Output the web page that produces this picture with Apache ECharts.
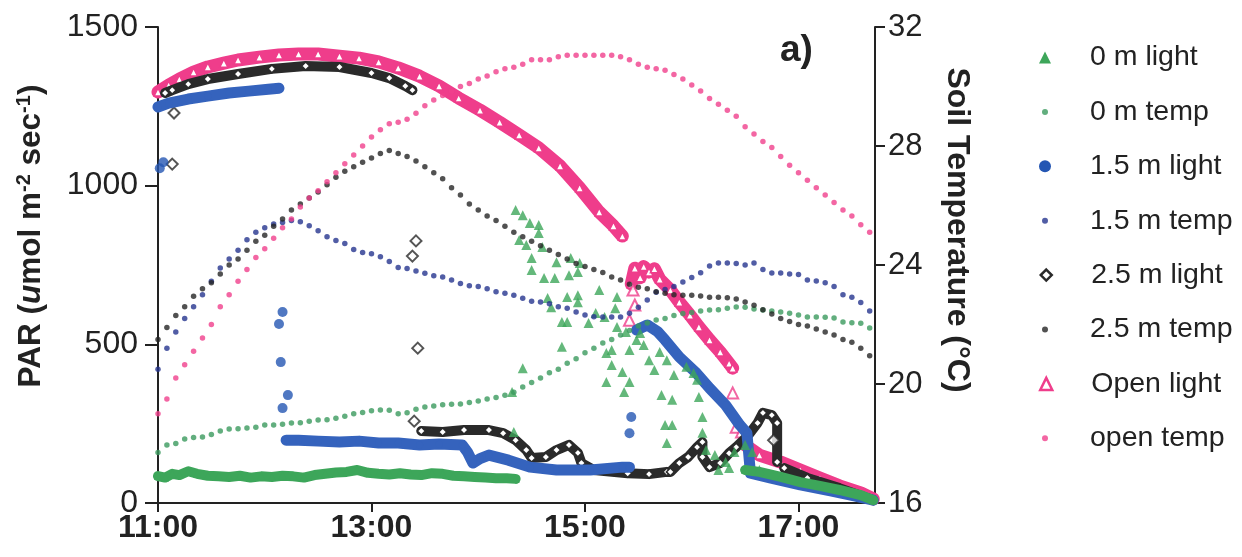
<!DOCTYPE html>
<html>
<head>
<meta charset="utf-8">
<script src="https://cdn.jsdelivr.net/npm/echarts@6/dist/echarts.min.js"></script>
<style>
html,body{margin:0;padding:0;background:#fff;}
#chart{width:1242px;height:557px;}
</style>
</head>
<body>
<div id="chart"></div>
<script>
// ---------- data (x = minutes after 11:00) ----------
const timeTickLabels = ['11:00', '13:00', '15:00', '17:00'];
const parTicks = [0, 500, 1000, 1500];
const tempTicks = [16, 20, 24, 28, 32];

const tempMinutes = [0,5,10,15,20,25,30,35,40,45,50,55,60,65,70,75,80,85,90,95,
  100,105,110,115,120,125,130,135,140,145,150,155,160,165,170,175,180,185,190,195,
  200,205,210,215,220,225,230,235,240,245,250,255,260,265,270,275,280,285,290,295,
  300,305,310,315,320,325,330,335,340,345,350,355,360,365,370,375,380,385,390,395,400];

const temp0m = [17.7,17.95,18.0,18.15,18.2,18.22,18.3,18.42,18.49,18.5,
  18.52,18.55,18.62,18.62,18.65,18.69,18.7,18.75,18.79,18.8,
  18.85,18.92,19.0,19.04,19.1,19.13,19.12,19.0,19.03,19.15,
  19.23,19.26,19.3,19.32,19.33,19.38,19.43,19.5,19.55,19.62,
  19.72,19.9,20.05,20.2,20.38,20.5,20.7,20.85,21.05,21.2,
  21.38,21.5,21.65,21.8,21.95,22.05,22.15,22.2,22.3,22.37,
  22.4,22.45,22.49,22.5,22.55,22.59,22.58,22.52,22.49,22.45,
  22.42,22.38,22.32,22.25,22.25,22.24,22.22,22.08,22.06,22.04,21.88];

const temp15m = [20.5,21.2,21.75,22.2,22.6,23.0,23.45,23.9,24.2,24.5,
  24.85,25.1,25.25,25.38,25.43,25.5,25.45,25.32,25.15,24.95,
  24.82,24.72,24.52,24.42,24.38,24.28,24.12,23.92,23.88,23.8,
  23.72,23.64,23.6,23.5,23.38,23.3,23.28,23.2,23.1,23.05,
  22.98,22.88,22.78,22.76,22.7,22.6,22.55,22.42,22.32,22.26,
  22.25,22.25,22.25,22.38,22.58,22.82,23.08,23.18,23.28,23.43,
  23.58,23.74,23.97,24.07,24.07,24.05,24.0,24.07,23.85,23.73,
  23.73,23.7,23.68,23.5,23.46,23.4,23.28,23.0,22.92,22.74,22.45];

const temp25m = [21.5,21.9,22.3,22.6,22.95,23.2,23.4,23.7,24.0,24.2,
  24.5,24.8,25.0,25.3,25.55,25.85,26.05,26.25,26.45,26.7,
  26.95,27.15,27.3,27.45,27.6,27.75,27.85,27.75,27.65,27.5,
  27.3,27.1,26.9,26.6,26.35,26.05,25.85,25.65,25.5,25.3,
  25.1,24.95,24.8,24.65,24.5,24.35,24.2,24.05,23.95,23.85,
  23.75,23.6,23.5,23.35,23.25,23.2,23.1,23.05,23.0,22.98,
  22.98,22.96,22.92,22.92,22.9,22.86,22.76,22.65,22.5,22.35,
  22.2,22.1,22.0,21.95,21.85,21.75,21.65,21.5,21.4,21.2,20.95];

const tempOpen = [19.0,19.5,20.2,20.65,21.1,21.55,22.0,22.6,23.0,23.45,
  23.85,24.25,24.55,24.9,25.25,25.55,25.95,26.25,26.5,26.8,
  27.1,27.4,27.7,28.0,28.3,28.55,28.75,28.8,28.9,29.1,
  29.35,29.55,29.7,29.85,30.0,30.1,30.25,30.35,30.5,30.6,
  30.65,30.75,30.9,30.9,30.9,31.0,31.05,31.05,31.05,31.05,
  31.05,31.05,31.0,30.9,30.75,30.65,30.6,30.55,30.4,30.25,
  30.05,29.85,29.6,29.4,29.2,29.0,28.65,28.4,28.15,27.95,
  27.65,27.35,27.1,26.85,26.6,26.35,26.1,25.85,25.65,25.35,25.1];

// Open light (PAR)
const openLightSeg1 = [[0,1295],[6,1317],[12,1336],[20,1358],[28,1374],[37,1386],[45,1396],[57,1405],[68,1412],[79,1415],[90,1415],[102,1408],[113,1402],[124,1390],[135,1371],[147,1345],[158,1314],[169,1276],[181,1238],[192,1200],[203,1160],[214,1119],[226,1062],[237,993],[248,917],[256,873],[261,841]];
const openLightSeg2 = [[266,690],[268,740],[271,710],[273,745],[276,728],[279,738],[282,705],[288,671],[293,633],[299,592],[304,555],[310,514],[316,476],[321,440],[323,425]];
const openLightSeg3 = [[330,183],[338,151],[350,129],[361,104],[372,79],[383,54],[395,32],[402,13]];
const openLightPts = [[323,347],[325,239],[328,224],[267,671],[268,624],[265,576]];

// 2.5 m light
const light25Seg1 = [[4,1292],[8,1301],[17,1320],[28,1336],[45,1352],[64,1368],[83,1377],[102,1374],[120,1355],[130,1339],[139,1314],[143,1301]];
const light25Seg2 = [[148,227],[160,224],[172,230],[186,230],[194,220],[201,198],[207,167],[210,142],[218,145],[224,167],[231,183],[236,158],[238,126],[245,104],[264,94],[276,91],[286,98],[288,98],[293,126],[298,145],[303,176],[306,192],[306,145],[310,113],[316,126],[321,157],[325,176],[331,208],[337,252],[340,284],[345,277],[348,252],[348,129]];
const light25Seg3 = [[352,110],[365,79],[383,47],[402,9]];
const light25Pts = [[9,1229],[8,1068],[145,826],[143,778],[146,488],[144,258],[346,198]];

// 1.5 m light
const light15Seg1 = [[0,1248],[6,1260],[17,1273],[28,1282],[40,1292],[51,1298],[62,1304],[68,1307]];
const light15Seg2 = [[72,198],[79,198],[90,195],[102,192],[113,195],[124,189],[135,189],[147,183],[158,186],[171,183],[174,160],[177,126],[181,140],[186,151],[197,135],[209,113],[224,104],[243,104],[261,113],[265,113]];
const light15Seg3 = [[269,545],[275,561],[281,539],[285,514],[293,460],[302,413],[310,362],[319,309],[327,246],[331,220],[333,94],[344,79],[361,57],[378,38],[392,22],[402,9]];
const light15Pts = [[1,1055],[3,1074],[70,602],[68,564],[69,444],[73,340],[70,299],[266,271],[265,220]];

// 0 m light
const light0Seg1 = [[0,85],[4,80],[8,92],[12,88],[17,100],[22,92],[28,86],[34,84],[40,82],[46,86],[52,80],[58,84],[64,82],[70,86],[76,84],[82,80],[88,88],[94,92],[100,96],[106,98],[112,104],[118,95],[124,92],[130,90],[136,94],[142,90],[148,88],[154,94],[160,92],[166,86],[172,84],[178,82],[184,80],[190,78],[196,78],[201,76]];
const light0Seg2 = [[330,104],[338,98],[350,82],[361,66],[372,54],[383,41],[395,25],[402,9]];
const light0Pts = [[201,923],[205,907],[209,882],[214,876],[214,851],[203,829],[207,813],[216,807],[210,772],[224,759],[232,772],[237,756],[210,734],[217,709],[223,709],[231,718],[236,728],[219,646],[221,617],[230,649],[236,655],[236,633],[248,671],[258,649],[257,614],[227,570],[230,570],[242,567],[246,599],[251,586],[258,555],[263,539],[227,492],[205,425],[199,350],[252,473],[255,482],[255,435],[261,413],[265,381],[252,381],[262,350],[200,224],[265,482],[269,514],[271,536],[276,450],[279,419],[290,403],[283,340],[289,325],[304,334],[285,246],[289,246],[306,271],[306,221],[286,189],[308,167],[297,429],[301,410],[303,388],[313,151],[319,129],[324,161],[330,183],[334,161],[338,104],[315,104],[321,110],[273,498],[282,476],[286,450]];

// ---------- styling ----------
const FONT = "'Liberation Sans', Arial, Helvetica, sans-serif";
const PINK = '#EF3D8B';
const BLUE = '#3563BD';
const BLACK = '#2a2a2a';
const GREEN = '#3DA65A';
const GREEN_T = '#3b9a5e';
const NAVY_T = '#25358f';
const BLACK_T = '#262626';
const PINK_T = '#F0408C';
const TEXT = '#222';

function joinSegs(...segs) {
  const out = [];
  segs.forEach((s, i) => {
    if (i > 0) out.push([s[0][0], null]);
    s.forEach(p => out.push(p));
  });
  return out;
}
function zip(xs, ys) { return xs.map((x, i) => [x, ys[i]]); }

function band(name, data, color, width, symbol, size, hollow, z) {
  return {
    name, type: 'line', data, yAxisIndex: 0, z,
    symbol, symbolSize: size, showSymbol: true, connectNulls: false,
    lineStyle: { color, width, join: 'round', cap: 'round' },
    itemStyle: hollow ? { color: '#fff', borderColor: color, borderWidth: 1.5 } : { color },
    emphasis: { disabled: true }, animation: false, silent: true
  };
}
function pts(name, data, color, symbol, size, hollow, yAxisIndex, z) {
  return {
    name, type: 'scatter', data, yAxisIndex, z,
    symbol, symbolSize: size,
    itemStyle: hollow ? { color: '#fff', borderColor: color, borderWidth: 2 } : { color },
    emphasis: { disabled: true }, animation: false, silent: true
  };
}

const series = [
  band('Open light', joinSegs(openLightSeg1, openLightSeg2, openLightSeg3), PINK, 13, 'triangle', 8, true, 2),
  pts('Open light', openLightPts, PINK, 'triangle', 11, true, 0, 2),
  band('2.5 m light', joinSegs(light25Seg1, light25Seg2, light25Seg3), BLACK, 10, 'diamond', 8, true, 3),
  pts('2.5 m light', light25Pts, BLACK, 'diamond', 11, true, 0, 3),
  band('1.5 m light', joinSegs(light15Seg1, light15Seg2, light15Seg3), BLUE, 11, 'circle', 7, false, 4),
  pts('1.5 m light', light15Pts, '#2456B3', 'circle', 10, false, 0, 4),
  band('0 m light', joinSegs(light0Seg1, light0Seg2), GREEN, 10, 'triangle', 8, false, 5),
  pts('0 m light', light0Pts, GREEN, 'triangle', 10, false, 0, 5),
  pts('0 m temp', zip(tempMinutes, temp0m), GREEN_T, 'circle', 5.5, false, 1, 6),
  pts('1.5 m temp', zip(tempMinutes, temp15m), NAVY_T, 'circle', 5.5, false, 1, 6),
  pts('2.5 m temp', zip(tempMinutes, temp25m), BLACK_T, 'circle', 5.5, false, 1, 6),
  pts('open temp', zip(tempMinutes, tempOpen), PINK_T, 'circle', 5.5, false, 1, 6)
];

const legendRows = [
  { name: '0 m light', icon: 'triangle', size: 12, style: { color: GREEN } },
  { name: '0 m temp', icon: 'circle', size: 6, style: { color: GREEN_T } },
  { name: '1.5 m light', icon: 'circle', size: 12, style: { color: '#2456B3' } },
  { name: '1.5 m temp', icon: 'circle', size: 6, style: { color: NAVY_T } },
  { name: '2.5 m light', icon: 'diamond', size: 11, style: { color: '#fff', borderColor: BLACK, borderWidth: 2.5 } },
  { name: '2.5 m temp', icon: 'circle', size: 6, style: { color: BLACK_T } },
  { name: 'Open light', icon: 'triangle', size: 12, style: { color: '#fff', borderColor: PINK, borderWidth: 2.5 } },
  { name: 'open temp', icon: 'circle', size: 6, style: { color: PINK_T } }
];
const legends = legendRows.map((r, i) => ({
  data: [{ name: r.name, icon: r.icon, itemStyle: r.style }],
  left: 1045 - r.size / 2 - 5,
  top: 56 + i * 54.4 - 18,
  itemWidth: r.size, itemHeight: r.size,
  selectedMode: false,
  textStyle: { fontSize: 28.5, color: TEXT, fontFamily: FONT, padding: [0, 0, 0, 40 - r.size / 2] }
}));

const chart = echarts.init(document.getElementById('chart'), null, { renderer: 'canvas' });
chart.setOption({
  backgroundColor: '#fff',
  animation: false,
  textStyle: { fontFamily: FONT },
  grid: { left: 158, right: 367, top: 27, bottom: 54, containLabel: false },
  legend: legends,
  xAxis: {
    type: 'value', min: 0, max: 403, interval: 120,
    axisLine: { onZero: false, lineStyle: { color: TEXT, width: 2 } },
    axisTick: { length: 9, lineStyle: { color: TEXT, width: 2 } },
    axisLabel: {
      fontSize: 32, fontWeight: 'bold', color: TEXT, margin: 9, fontFamily: FONT,
      formatter: v => timeTickLabels[Math.round(v / 120)] || ''
    },
    splitLine: { show: false }
  },
  yAxis: [
    {
      type: 'value', min: parTicks[0], max: parTicks[parTicks.length - 1], interval: 500, position: 'left',
      axisLine: { show: true, onZero: false, lineStyle: { color: TEXT, width: 2 } },
      axisTick: { show: true, length: 13, lineStyle: { color: TEXT, width: 2 } },
      axisLabel: { fontSize: 32, color: TEXT, margin: 20, fontFamily: FONT, formatter: v => String(v) },
      splitLine: { show: false },
      name: '{b|PAR (}{i|u}{b|mol m}{s|-2}{b| sec}{s|-1}{b|)}',
      nameLocation: 'middle', nameRotate: 90, nameGap: 110,
      nameTextStyle: {
        padding: [0, 0, 0, 58],
        rich: {
          b: { fontSize: 31.5, fontWeight: 'bold', color: TEXT, fontFamily: FONT, lineHeight: 34 },
          i: { fontSize: 31.5, fontWeight: 'bold', fontStyle: 'italic', color: TEXT, fontFamily: FONT, lineHeight: 34 },
          s: { fontSize: 20, fontWeight: 'bold', color: TEXT, fontFamily: FONT, lineHeight: 20, verticalAlign: 'top' }
        }
      }
    },
    {
      type: 'value', min: tempTicks[0], max: tempTicks[tempTicks.length - 1], interval: 4, position: 'right',
      axisLine: { show: true, onZero: false, lineStyle: { color: TEXT, width: 2 } },
      axisTick: { show: true, length: 10, lineStyle: { color: TEXT, width: 2 } },
      axisLabel: { fontSize: 31, color: TEXT, margin: 13, fontFamily: FONT },
      splitLine: { show: false },
      name: 'Soil Temperature (°C)',
      nameLocation: 'middle', nameRotate: -90, nameGap: 66,
      nameTextStyle: { fontSize: 32, fontWeight: 'bold', color: TEXT, fontFamily: FONT, padding: [0, 70, 0, 0] }
    }
  ],
  graphic: [{
    type: 'text', left: 780, top: 32,
    style: { text: 'a)', font: "bold 37px 'Liberation Sans', Arial, sans-serif", fill: TEXT }
  }],
  series
});
</script>
</body>
</html>
